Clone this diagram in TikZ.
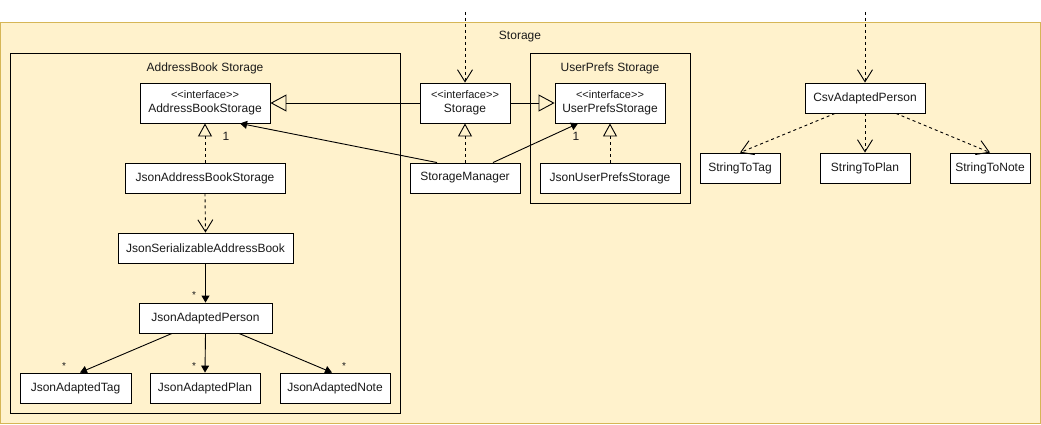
\documentclass[tikz,border=0pt]{standalone}
\usepackage{fontspec}
\setmainfont{Liberation Sans}
\usetikzlibrary{arrows.meta,calc}
\definecolor{frameFill}{HTML}{FFF2CC}
\definecolor{frameLine}{HTML}{D6B656}
\definecolor{txt}{HTML}{1A1A1A}
\newcommand{\myiface}{\fontsize{11}{14}\selectfont}
\begin{document}
\begin{tikzpicture}[x=1pt,y=-1pt,
  cls/.style={draw=black, fill=white, line width=0.9pt, inner sep=0pt, align=center, text=txt,
    font=\fontsize{12}{14}\selectfont},
  frametitle/.style={inner sep=0pt, text=txt, font=\fontsize{12}{14}\selectfont},
  mult/.style={inner sep=0pt, text=txt, font=\fontsize{10}{12}\selectfont},
  one/.style={inner sep=0pt, text=txt, font=\fontsize{12}{14}\selectfont},
  conn/.style={line width=0.9pt, draw=black},
  inh/.style={conn, -{Triangle[open,length=16pt,width=17pt]}},
  real/.style={conn, dash pattern=on 3pt off 3pt, -{Triangle[open,length=13pt,width=14pt]}},
  dep/.style={conn, dash pattern=on 3pt off 3pt, -{Straight Barb[length=12pt,width=15pt,line width=0.9pt]}},
  assoc/.style={conn, -{Triangle[length=7pt,width=8pt]}}
]
\useasboundingbox (0,0) rectangle (1041,425);
% outer Storage frame
\path[fill=frameFill, draw=frameLine, line width=1pt] (0.5,23) rectangle (1040,423);
\node[frametitle] (storagetitle) at (520,37) {Storage};
% inner frames
\draw[line width=0.9pt] (10,53) rectangle (400,413);
\node[frametitle] (abtitle) at (205,68) {AddressBook Storage};
\draw[line width=0.9pt] (530,53) rectangle (690,203);
\node[frametitle] (uptitle) at (610,68) {UserPrefs Storage};

% class boxes
\node[cls, minimum width=130pt, minimum height=40pt] (abs) at (205,103)
  {{\myiface <{}<interface>{}>}\\AddressBookStorage};
\node[cls, minimum width=160pt, minimum height=30pt] (jabs) at (205,178) {JsonAddressBookStorage};
\node[cls, minimum width=175pt, minimum height=30pt] (jsab) at (205.5,248) {JsonSerializableAddressBook};
\node[cls, minimum width=133pt, minimum height=30pt] (jap) at (205.5,318) {JsonAdaptedPerson};
\node[cls, minimum width=111pt, minimum height=30pt] (jat) at (75.5,388) {JsonAdaptedTag};
\node[cls, minimum width=110pt, minimum height=30pt] (japl) at (205,388) {JsonAdaptedPlan};
\node[cls, minimum width=110pt, minimum height=30pt] (jan) at (335,388) {JsonAdaptedNote};
\node[cls, minimum width=90pt, minimum height=40pt] (st) at (465,103)
  {{\myiface <{}<interface>{}>}\\Storage};
\node[cls, minimum width=110pt, minimum height=30pt] (sm) at (465,178) {StorageManager};
\node[cls, minimum width=110pt, minimum height=40pt] (ups) at (610,103)
  {{\myiface <{}<interface>{}>}\\UserPrefsStorage};
\node[cls, minimum width=140pt, minimum height=30pt] (jups) at (610,178) {JsonUserPrefsStorage};
\node[cls, minimum width=120pt, minimum height=30pt] (csv) at (865,98) {CsvAdaptedPerson};
\node[cls, minimum width=80pt, minimum height=30pt] (stt) at (740,168) {StringToTag};
\node[cls, minimum width=90pt, minimum height=30pt] (stp) at (865,168) {StringToPlan};
\node[cls, minimum width=80pt, minimum height=30pt] (stn) at (990,168) {StringToNote};

% free ends of incoming dependencies
\coordinate (topst) at (465,12);
\coordinate (topcsv) at (865,12);

% connectors
\draw[dep] (topst) -- (st.north);
\draw[dep] (topcsv) -- (csv.north);
\draw[inh] (st.west) -- (abs.east);
\draw[inh] (st.east) -- (ups.west);
\draw[real] (sm.north) -- (st.south);
\draw[real] (jups.north) -- (ups.south);
\draw[real] (jabs.north) -- (abs.south);
\draw[assoc] ($(sm.north)+(-28,0)$) -- ($(abs.south)+(35,0)$);
\draw[assoc] ($(sm.north)+(28,0)$) -- ($(ups.south)+(-32,0)$);
\node[one] (m1) at (226,136) {1};
\node[one] (m2) at (576,136) {1};
\draw[dep] (jabs.south) -- (jsab.north);
\draw[assoc] (jsab.south) -- (jap.north);
\node[mult] (m3) at (194,295) {*};
\draw[assoc] ($(jap.south)+(-33.5,0)$) -- ($(jat.north)+(4.5,0)$);
\draw[assoc] (jap.south) -- (japl.north);
\draw[assoc] ($(jap.south)+(33.5,0)$) -- ($(jan.north)+(-3,0)$);
\node[mult] (m4) at (64,366) {*};
\node[mult] (m5) at (194,366) {*};
\node[mult] (m6) at (344,366) {*};
\draw[dep] ($(csv.south)+(-30,0)$) -- (stt.north);
\draw[dep] (csv.south) -- (stp.north);
\draw[dep] ($(csv.south)+(31,0)$) -- (stn.north);
\end{tikzpicture}
\end{document}
